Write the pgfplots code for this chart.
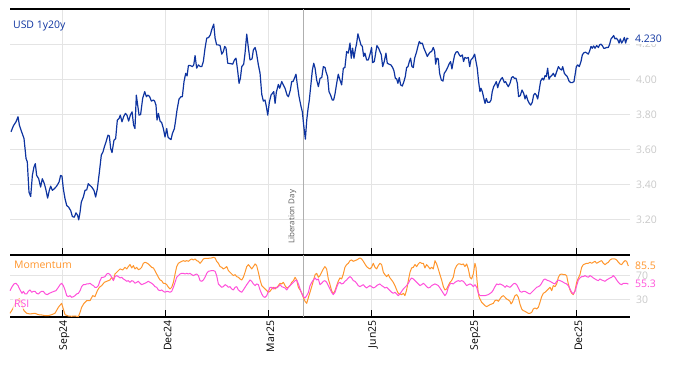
\documentclass[border=0pt]{standalone}
\usepackage{pgfplots}
\pgfplotsset{compat=1.18}
\usepackage{fontspec}
\setmainfont{Open Sans}
\definecolor{usdblue}{RGB}{14,52,160}
\definecolor{momorange}{RGB}{255,150,45}
\definecolor{rsipink}{RGB}{255,80,218}
\definecolor{gridgrey}{RGB}{228,228,228}
\definecolor{ticklab}{RGB}{200,200,200}
\definecolor{libgrey}{RGB}{175,175,175}
\definecolor{libtext}{RGB}{90,90,90}
\newcommand{\lf}{\fontsize{10.5}{12}\selectfont}
\begin{document}
\begin{tikzpicture}[x=1bp,y=1bp]
\useasboundingbox (0,0) rectangle (674,-366);
\pgfplotsset{
  common/.style={
    scale only axis, clip=false,
    xmin=0, xmax=548.7,
    separate axis lines,
    x axis line style={black, line width=1.2bp},
    y axis line style={draw=none},
    xtick={46.3,137.8,228.6,319.5,410.0,501.2},
    xtick pos=lower, xtick align=inside,
    major tick length=7bp,
    xtick style={black, line width=0.9bp},
    ytick style={draw=none},
    ytick pos=right, yticklabel pos=right,
    grid=major, major grid style={gridgrey, line width=0.8bp},
    /pgf/number format/assume math mode=true,
    yticklabel style={text=ticklab, font=\lf, anchor=west, xshift=2.5bp},
  }
}
\begin{axis}[common,
  at={(10bp,-9bp)}, anchor=north west,
  width=620bp, height=246bp,
  ymin=3.0, ymax=4.4,
  ytick={3.2,3.4,3.6,3.8,4.0,4.2},
  yticklabel style={/pgf/number format/.cd, fixed, fixed zerofill, precision=2},
  xticklabels={},
]
\draw[libgrey, line width=0.9bp] (axis cs:259.6,3.0) -- (axis cs:259.6,4.4);
\addplot[usdblue, line width=1.2bp, line join=round] coordinates {
(0.9,3.701)(3.0,3.735)(5.3,3.758)(7.1,3.787)(8.3,3.739)(10.3,3.701)(12.4,3.663)(14.2,3.549)(15.3,3.530)(16.8,3.358)
(18.3,3.333)(19.8,3.453)(21.2,3.501)(22.4,3.520)(23.6,3.453)(25.4,3.434)(27.1,3.387)(28.6,3.434)(30.4,3.406)(31.9,3.368)
(33.3,3.324)(34.8,3.368)(36.0,3.392)(37.5,3.368)(39.2,3.377)(41.3,3.392)(43.4,3.415)(44.8,3.453)(46.0,3.449)(47.2,3.377)
(48.7,3.320)(50.2,3.282)(51.9,3.272)(53.7,3.253)(55.2,3.219)(56.9,3.215)(58.4,3.240)(59.9,3.225)(60.8,3.200)(62.0,3.244)
(63.1,3.301)(64.9,3.330)(66.4,3.368)(67.9,3.371)(69.3,3.406)(70.8,3.396)(72.3,3.387)(74.3,3.368)(75.8,3.330)(77.3,3.377)
(79.1,3.472)(80.8,3.568)(82.3,3.587)(83.5,3.615)(85.0,3.644)(86.7,3.682)(87.9,3.678)(89.1,3.606)(90.3,3.583)(92.0,3.653)
(93.5,3.663)(95.0,3.768)(96.5,3.777)(97.6,3.796)(99.1,3.758)(100.6,3.787)(102.1,3.806)(103.5,3.796)(105.0,3.762)(106.5,3.796)
(108.0,3.815)(109.4,3.739)(110.6,3.720)(111.8,3.910)(113.0,3.853)(114.2,3.796)(115.6,3.800)(117.4,3.891)(119.2,3.930)(120.7,3.901)
(122.1,3.910)(123.6,3.901)(125.1,3.876)(126.9,3.882)(128.0,3.876)(129.2,3.853)(130.1,3.768)(131.3,3.806)(132.8,3.762)(134.2,3.754)
(135.7,3.720)(137.2,3.672)(138.7,3.720)(139.8,3.672)(141.0,3.663)
(142.5,3.657)(143.7,3.691)(145.5,3.720)(146.6,3.768)(147.8,3.825)(149.6,3.888)(151.4,3.901)(152.5,3.901)(154.0,3.987)(155.5,4.034)
(156.7,4.019)(157.9,4.078)(159.6,4.078)(161.4,4.072)(162.6,4.082)(163.8,4.135)(165.2,4.063)(166.7,4.082)(168.5,4.072)(169.7,4.072)
(171.1,4.101)(172.6,4.177)(174.1,4.234)(175.8,4.238)(177.3,4.253)(178.5,4.282)(180.3,4.314)(181.5,4.234)(182.9,4.196)(184.4,4.196)
(185.9,4.192)(187.4,4.143)(188.8,4.158)(190.0,4.187)(191.2,4.177)(192.7,4.091)(194.7,4.090)(197.1,4.086)(198.6,4.110)(200.0,4.120)
(201.5,4.048)(202.7,3.977)(203.9,4.006)(205.1,4.072)(206.8,4.086)(208.0,4.149)(209.5,4.257)(211.0,4.177)(212.4,4.110)(214.2,4.116)
(215.4,4.168)(216.9,4.181)(218.0,4.154)(219.8,4.082)(221.3,4.034)(222.8,3.914)(224.2,3.876)(225.7,3.882)(226.9,3.844)(228.1,3.796)
(229.5,3.869)(231.0,3.910)(232.2,3.920)(233.4,3.930)(234.6,3.863)(235.7,3.926)(237.5,3.971)(238.7,3.949)(240.5,3.987)(241.9,3.968)
(243.4,3.949)(245.2,3.910)(246.4,3.901)(248.1,3.939)(249.3,3.987)(250.5,3.987)(251.7,4.006)(253.1,4.029)(254.3,3.968)(255.8,3.901)
(257.6,3.844)(258.7,3.815)(259.9,3.739)(261.4,3.659)(262.6,3.768)(263.8,3.834)(264.9,3.882)(266.1,3.958)(267.6,4.053)(268.8,4.091)
(270.0,4.063)(271.4,3.996)(272.9,3.958)(274.4,4.006)(275.9,4.010)(277.3,4.072)(278.8,4.067)
(279.6,4.044)(281.1,4.015)(282.3,3.930)(283.7,3.910)(285.2,3.882)(286.4,3.882)(287.6,3.916)(289.1,3.977)(290.5,4.029)(292.0,3.996)
(293.5,3.968)(295.0,4.063)(296.4,4.067)(297.9,4.158)(299.4,4.149)(300.9,4.206)(302.0,4.120)(303.2,4.177)(304.4,4.120)(305.6,4.168)
(306.8,4.206)(307.9,4.259)(309.1,4.230)(310.6,4.196)(311.8,4.187)(313.0,4.130)(314.1,4.149)(315.6,4.110)(317.1,4.110)(318.6,4.143)
(320.0,4.181)(320.9,4.095)(322.4,4.101)(323.6,4.149)(324.7,4.192)(326.2,4.177)(327.4,4.158)(328.6,4.139)(329.8,4.072)(331.2,4.101)
(332.7,4.149)(333.9,4.091)(335.4,4.086)(337.1,4.082)(338.6,4.067)(339.8,4.048)(341.0,4.006)(342.2,4.002)(343.3,3.977)(344.5,4.010)
(345.7,3.968)(347.2,3.962)(348.6,3.987)(349.8,4.015)(351.0,4.067)(352.2,4.072)(353.4,4.101)(354.5,4.120)(355.7,4.072)(356.9,4.067)
(358.1,4.120)(359.9,4.158)(361.0,4.187)(362.2,4.215)(363.4,4.204)(364.9,4.206)(366.3,4.177)(367.8,4.154)(369.3,4.130)(370.5,4.143)
(371.7,4.154)(373.1,4.158)(374.6,4.181)(375.8,4.158)(376.7,4.086)(377.8,4.120)(379.0,4.116)(380.2,4.034)(381.7,3.996)(383.2,3.990)
(384.3,4.034)(385.8,4.048)(387.3,4.067)(388.5,4.086)(389.9,4.101)(391.1,4.059)(392.3,4.101)(393.5,4.139)(394.7,4.154)(396.1,4.158)
(397.6,4.139)(398.8,4.130)(400.3,4.139)(401.4,4.101)(402.6,4.124)(404.1,4.120)(405.6,4.124)(406.8,4.072)(407.9,4.110)(409.4,4.120)
(411.2,4.143)(412.4,4.101)(413.5,4.063)(414.7,3.987)(415.9,3.930)
(416.8,3.949)(418.0,3.930)(419.2,3.895)(420.4,3.863)(421.5,3.891)(422.7,3.869)(424.5,3.869)(425.7,3.882)(426.8,3.930)(428.0,3.958)
(429.2,3.971)(430.4,3.987)(431.6,3.952)(432.7,3.977)(434.5,4.002)(435.7,4.010)(437.5,3.981)(438.6,3.987)(439.8,3.971)(441.0,3.958)
(442.5,3.977)(443.9,4.010)(445.1,4.015)(446.3,4.006)(447.8,4.006)(449.0,3.977)(450.1,3.901)(451.6,3.907)(453.1,3.939)(454.6,3.920)
(455.8,3.888)(456.9,3.910)(458.1,3.882)(459.6,3.863)(460.8,3.853)(462.2,3.869)(463.4,3.910)(464.6,3.920)(465.8,3.910)(467.0,3.888)
(468.1,3.930)(469.6,3.990)(471.1,4.006)(472.3,3.996)(473.5,4.021)(474.6,4.015)(475.8,4.063)(477.0,4.000)(478.2,4.015)(479.4,4.021)
(480.8,4.034)(482.3,4.015)(483.8,4.044)(485.3,4.072)(486.7,4.059)(488.2,4.053)(489.1,4.072)(490.6,4.034)(491.7,4.025)(493.2,4.015)
(494.7,3.990)(496.2,3.981)(497.6,3.981)(499.1,3.987)(500.3,4.034)(501.2,4.072)(502.4,4.082)(503.8,4.072)(505.3,4.101)(506.5,4.139)
(508.0,4.152)(509.4,4.154)(510.6,4.149)(511.8,4.143)(513.0,4.162)(514.2,4.187)(515.3,4.177)(516.5,4.190)(517.7,4.177)(519.2,4.192)
(520.7,4.181)(521.8,4.196)(523.0,4.200)(524.2,4.192)(525.4,4.177)(526.6,4.177)(528.0,4.181)(529.5,4.181)(530.7,4.200)(531.9,4.230)
(533.0,4.238)(534.2,4.249)(535.4,4.230)(536.6,4.234)(537.8,4.225)(539.0,4.206)(540.1,4.230)(541.3,4.206)(542.5,4.219)(543.7,4.238)
(544.8,4.206)(546.0,4.234)(547.2,4.230)
};
\coordinate (usdlast) at (axis cs:548.7,4.23);
\coordinate (libpos) at (axis cs:253.6,3.063);
\coordinate (usdtitle) at (axis cs:2.6,4.289);
\end{axis}
\node[rotate=90, anchor=south west, inner sep=0pt, text=libtext, font=\fontsize{8}{9}\selectfont] at (libpos) {Liberation Day};
\node[anchor=base west, inner sep=0pt, text=usdblue, font=\lf] at (usdtitle) {USD 1y20y};
\node[anchor=west, fill=white, inner sep=1bp, xshift=4bp, text=usdblue, font=\lf] at (usdlast) {4.230};

\begin{axis}[common,
  at={(10bp,-255bp)}, anchor=north west,
  width=620bp, height=62bp,
  ymin=0.5, ymax=103.8,
  ytick={30,70},
  xticklabels={Sep24,Dec24,Mar25,Jun25,Sep25,Dec25},
  xticklabel style={rotate=90, anchor=east, font=\lf, text=black, yshift=-2bp},
]
\draw[libgrey, line width=0.9bp] (axis cs:259.6,0.5) -- (axis cs:259.6,103.8);
\addplot[momorange, line width=1bp, line join=round] coordinates {
(0,6.7)(2.4,13.9)(4.4,22.2)(6.5,28.9)(8.3,30.6)(10.3,22.2)(12.4,11.1)(14.8,6.7)(17.7,5.6)(22.1,6.7)
(25.1,4.4)(28.0,3.9)(31.0,2.8)(33.9,2.8)(36.9,4.4)(39.8,6.7)(42.8,16.7)(45.7,23.3)(47.2,13.9)(48.7,4.4)
(51.6,2.2)(54.6,1.7)(57.5,2.2)(60.5,1.1)(62.0,8.3)(63.4,16.7)(65.5,23.3)(67.9,27.8)(70.8,27.8)(73.2,36.1)
(75.2,34.4)(77.3,44.4)(79.1,50.0)(81.1,52.8)(83.5,58.3)(85.6,60.0)(88.5,62.2)(90.0,66.7)(91.5,62.2)(92.9,72.2)
(94.4,75.0)(95.9,77.8)(97.4,80.6)(99.7,78.9)(101.8,83.3)(103.3,80.6)(104.7,84.5)(106.2,87.8)(107.7,82.2)(109.2,86.1)
(110.6,80.6)(112.1,83.3)(113.6,79.4)(115.1,80.6)(116.5,83.3)(118.0,90.0)(119.5,91.7)(121.0,90.6)(122.4,88.9)(123.9,86.1)
(125.4,83.3)(126.9,82.2)(128.3,77.8)(129.8,72.2)(131.3,66.7)(132.8,62.2)(134.2,61.1)(135.7,56.7)
(137.2,56.7)(138.7,54.4)(140.2,50.0)(141.6,47.2)(143.1,50.0)(144.6,58.3)(146.1,72.2)(147.5,84.5)(149.0,90.0)(150.5,91.7)
(152.0,93.3)(153.4,94.4)(154.9,93.3)(156.4,94.4)(157.9,93.3)(159.3,95.6)(160.8,97.2)(162.3,95.6)(163.8,97.2)(165.2,94.4)
(166.7,93.3)(168.2,90.0)(169.7,93.3)(171.1,97.2)(172.6,98.3)(175.6,98.3)(178.5,98.9)(180.0,100.0)(181.5,98.9)(182.9,93.3)
(184.4,90.0)(185.9,84.5)(187.4,83.3)(188.8,80.6)(190.3,82.2)(191.8,84.5)(193.3,77.8)(194.7,75.0)(196.2,72.2)(197.7,69.5)
(199.2,71.1)(200.6,67.8)(202.1,66.7)(203.6,63.9)(205.1,62.2)(206.5,66.7)(208.0,75.0)(209.5,84.5)(211.0,87.8)(212.4,84.5)
(213.9,80.6)(215.4,84.5)(216.9,88.9)(218.3,86.1)(219.8,75.0)(221.3,62.2)(222.8,52.8)(224.2,50.0)(225.7,47.2)(227.2,44.4)
(228.7,41.7)(230.1,43.3)(231.6,47.2)(233.1,50.0)(234.6,47.2)(236.0,50.0)(237.5,52.8)(239.0,56.7)(240.5,55.6)(241.9,58.3)
(243.4,52.8)(244.9,48.9)(246.4,50.0)(247.8,52.8)(249.3,58.3)(250.8,61.1)(252.3,66.7)(253.7,62.2)(255.2,50.0)(256.7,45.6)
(258.2,40.0)(259.6,33.3)(261.1,26.7)(262.6,23.3)(264.1,33.3)(265.5,41.7)(267.0,51.1)(268.5,61.1)(270.0,71.1)(271.4,73.3)
(272.9,66.7)
(274.3,69.5)(275.8,75.0)(277.3,80.6)(278.7,84.5)(280.2,80.6)(281.7,63.9)(283.2,54.4)(284.6,44.4)(286.1,38.9)(287.6,44.4)
(289.1,52.8)(290.5,60.0)(292.0,65.6)(293.5,63.9)(295.0,72.2)(296.4,83.3)(297.9,87.8)(299.4,90.0)(300.9,94.4)(302.3,95.6)
(303.8,93.3)(305.3,94.4)(306.8,95.6)(308.2,97.2)(309.7,98.9)(311.2,97.2)(312.7,93.3)(314.1,88.9)(315.6,84.5)(317.1,82.2)
(318.6,80.6)(320.0,83.3)(321.5,90.0)(323.0,83.3)(324.5,80.6)(325.9,86.1)(327.4,90.0)(328.9,87.8)(330.4,75.0)(331.8,71.1)
(333.3,67.8)(334.8,71.1)(336.3,65.6)(337.7,62.2)(339.2,58.3)(340.7,52.8)(342.2,45.6)(343.6,40.0)(345.1,38.9)(346.6,37.8)
(348.1,40.0)(349.5,36.1)(351.0,45.6)(352.5,61.1)(354.0,75.0)(355.4,82.2)(356.9,83.3)(358.4,87.8)(359.9,84.5)(361.3,88.9)
(362.8,91.7)(364.3,90.0)(365.8,90.0)(367.2,82.2)(368.7,87.8)(370.2,84.5)(371.7,80.6)(373.1,83.3)(374.6,80.6)(376.1,94.4)
(377.6,88.9)(379.0,80.6)(380.5,71.1)(382.0,62.2)(383.5,51.1)(384.9,45.6)(386.4,47.2)(387.9,52.8)(389.4,58.3)(390.8,61.1)
(392.3,66.7)(393.8,80.6)(395.3,86.1)(396.7,88.9)(398.2,88.9)(399.7,87.8)(401.2,88.9)(402.6,84.5)(404.1,88.9)(405.6,80.6)
(407.1,66.7)(408.5,63.9)(410.0,72.2)
(411.5,90.0)(412.4,83.3)(413.3,61.1)(414.2,44.4)(415.0,34.4)(415.9,30.6)(417.4,25.0)(418.9,22.2)(420.4,19.4)(421.8,17.8)
(423.3,19.4)(424.8,21.1)(426.3,22.2)(427.7,23.3)(429.2,27.8)(430.7,28.9)(432.2,26.7)(433.6,30.6)(435.1,34.4)(436.6,36.1)
(438.1,33.3)(439.5,30.6)(441.0,28.9)(442.5,26.7)(443.4,22.2)(444.5,25.0)(445.7,30.6)(446.9,36.1)(448.4,37.8)(449.9,33.3)
(451.3,22.2)(452.8,13.9)(454.3,11.1)(455.8,10.0)(457.2,8.3)(458.7,6.7)(460.2,6.7)(461.7,8.3)(463.1,13.9)(464.6,15.6)
(466.1,13.9)(467.6,16.7)(469.0,25.0)(470.5,34.4)(472.0,40.0)(473.5,41.7)(474.9,44.4)(476.4,47.2)(477.9,50.0)(479.4,44.4)
(480.8,52.8)(482.3,51.1)(483.8,55.6)(485.3,66.7)(486.7,71.1)(488.2,72.2)(489.7,71.1)(491.2,71.1)(492.6,69.5)(494.1,55.6)
(495.6,45.6)(497.1,40.0)(498.5,37.8)(500.0,44.4)(501.5,58.3)(503.0,65.6)(504.4,71.1)(505.9,83.3)(507.4,87.8)(508.9,88.9)
(510.3,90.0)(511.8,90.0)(513.3,91.7)(514.8,90.0)(516.2,91.7)(517.7,93.3)(519.2,90.0)(520.7,91.7)(522.1,93.3)(523.6,94.4)
(525.1,90.0)(526.6,87.8)(528.0,90.0)(529.5,91.7)(531.0,95.6)(532.5,97.2)(533.9,97.2)(535.4,97.2)(536.9,95.6)(538.4,91.7)
(539.8,88.9)(541.3,87.8)(542.8,91.7)(544.3,94.4)(545.7,93.3)(547.2,85.5)
};
\addplot[rsipink, line width=1bp, line join=round] coordinates {
(0,44.4)(1.5,50.0)(3.5,55.6)(5.3,56.7)(7.1,52.8)(8.9,45.6)(10.6,40.0)(11.8,43.3)(13.3,38.9)(14.8,38.9)
(16.2,43.3)(17.7,45.6)(19.2,41.7)(20.7,43.3)(22.1,43.3)(23.6,40.0)(25.1,38.9)(26.6,41.7)(28.0,43.3)(29.5,43.3)
(31.3,38.9)(33.0,37.8)(34.8,40.0)(36.9,41.7)(38.9,43.3)(40.7,44.4)(42.8,50.0)(44.3,54.4)(45.7,56.7)(47.2,52.8)
(48.7,45.6)(50.2,36.1)(51.6,34.4)(53.1,36.1)(54.6,33.3)(56.1,34.4)(57.5,36.1)(59.0,38.9)(60.5,40.0)(62.0,44.4)
(63.4,51.1)(64.9,54.4)(66.4,54.4)(67.9,55.6)(69.3,55.6)(70.8,56.7)(72.3,54.4)(73.8,52.8)(75.2,50.0)(76.7,50.0)
(78.2,52.8)(79.7,61.1)(81.1,66.7)(82.6,66.7)(84.1,67.8)(85.6,72.2)(87.0,73.3)(88.5,71.1)(90.0,66.7)(91.5,61.1)
(92.9,67.8)(94.4,69.5)(95.9,67.8)(97.4,65.6)(98.8,66.7)(100.3,63.9)(101.8,62.2)(103.3,60.0)(104.7,61.1)(106.2,58.3)
(107.7,61.1)(109.2,60.0)(110.6,56.7)(112.1,58.3)(113.6,60.0)(115.1,56.7)(116.5,54.4)(118.0,55.6)(119.5,56.7)(121.0,58.3)
(122.4,60.0)(123.9,58.3)(125.4,56.7)(126.9,54.4)(128.3,51.1)(129.8,50.0)(131.3,45.6)(132.8,44.4)(134.2,45.6)(135.7,43.3)
(137.2,41.7)(138.7,43.3)(140.2,42.8)(141.6,41.7)(143.1,43.3)(144.6,50.0)(146.1,58.3)(147.5,66.7)(149.0,69.5)(150.5,72.2)
(152.0,73.3)(153.4,73.3)(154.9,72.2)(156.4,73.3)(157.9,72.2)(159.3,73.3)(160.8,71.1)(162.3,69.5)(163.8,71.1)(165.2,72.2)
(166.7,69.5)(168.2,61.1)(169.7,60.0)(171.1,62.2)(172.6,66.7)(174.1,73.3)(175.6,76.7)(178.5,77.8)(180.0,77.8)(181.5,76.7)
(182.9,69.5)(184.4,55.6)(185.9,52.8)(187.4,50.0)(188.8,51.1)(190.3,54.4)(191.8,52.8)(193.3,50.0)(194.7,51.1)(196.2,47.2)
(197.7,45.6)(199.2,50.0)(200.6,51.1)(202.1,45.6)(203.6,43.3)(205.1,41.7)(206.5,45.6)(208.0,50.0)(209.5,54.4)(211.0,58.3)
(212.4,62.2)(213.9,60.0)(215.4,55.6)(216.9,52.8)(218.3,55.6)(219.8,54.4)(221.3,45.6)(222.8,38.9)(224.2,34.4)(225.7,33.3)
(227.2,36.1)(228.7,43.3)(230.1,50.0)(231.6,50.0)(233.1,47.2)(234.6,50.0)(236.0,48.9)(237.5,51.1)(239.0,54.4)(240.5,51.1)
(241.9,50.0)(243.4,48.9)(244.9,45.6)(246.4,50.0)(247.8,52.8)(249.3,55.6)(250.8,58.3)(252.3,61.1)(253.7,62.2)(255.2,55.6)
(256.7,47.2)(258.2,40.0)(259.6,34.4)(261.1,32.2)(262.6,36.1)(264.1,41.7)(265.5,52.8)(267.0,58.3)(268.5,62.2)(270.0,65.6)
(271.4,62.2)(272.9,63.9)
(274.3,54.4)(275.8,56.7)(277.3,60.0)(278.7,61.1)(280.2,58.3)(281.7,52.8)(283.2,47.2)(284.6,41.7)(286.1,37.8)(287.6,41.7)
(289.1,50.0)(290.5,56.7)(292.0,58.3)(293.5,55.6)(295.0,56.7)(296.4,60.0)(297.9,62.2)(299.4,65.6)(300.9,67.8)(302.3,65.6)
(303.8,61.1)(305.3,60.0)(306.8,56.7)(308.2,52.8)(309.7,51.1)(311.2,52.8)(312.7,54.4)(314.1,51.1)(315.6,48.9)(317.1,51.1)
(318.6,52.8)(320.0,51.1)(321.5,48.9)(323.0,50.0)(324.5,52.8)(325.9,54.4)(327.4,55.6)(328.9,52.8)(330.4,51.1)(331.8,48.9)
(333.3,50.0)(334.8,47.2)(336.3,44.4)(337.7,41.7)(339.2,40.0)(340.7,41.7)(342.2,38.9)(343.6,36.1)(345.1,38.9)(346.6,43.3)
(348.1,47.2)(349.5,50.0)(351.0,52.8)(352.5,56.7)(354.0,62.2)(355.4,65.6)(356.9,63.9)(358.4,61.1)(359.9,58.3)(361.3,55.6)
(362.8,52.8)(364.3,54.4)(365.8,56.7)(367.2,54.4)(368.7,51.1)(370.2,48.9)(371.7,50.0)(373.1,52.8)(374.6,54.4)(376.1,55.6)
(377.6,54.4)(379.0,52.8)(380.5,48.9)(382.0,44.4)(383.5,40.0)(384.9,36.1)(386.4,40.0)(387.9,50.0)(389.4,55.6)(390.8,56.7)
(392.3,55.6)(393.8,58.3)(395.3,60.0)(396.7,61.1)(398.2,60.0)(399.7,61.1)(401.2,60.0)(402.6,56.7)(404.1,52.8)(405.6,54.4)
(407.1,55.6)(408.5,54.4)(410.0,51.1)
(411.5,54.4)(413.0,50.0)(414.5,40.0)(415.9,36.1)(417.4,36.1)(420.4,36.1)(423.3,37.8)(426.3,41.7)(427.7,45.6)(429.2,51.1)
(430.7,55.6)(432.2,54.4)(433.6,55.6)(435.1,54.4)(436.6,52.8)(438.1,50.0)(439.5,52.8)(441.0,51.1)(442.5,50.0)(444.0,52.8)
(445.4,55.6)(446.9,56.7)(448.4,54.4)(449.9,48.9)(451.3,43.3)(452.8,41.7)(454.3,43.3)(455.8,43.3)(457.2,41.7)(458.7,40.0)
(460.2,38.9)(461.7,41.7)(463.1,44.4)(464.6,47.2)(466.1,50.0)(467.6,51.1)(469.0,52.8)(470.5,56.7)(472.0,62.2)(473.5,63.9)
(474.9,62.2)(476.4,61.1)(477.9,60.0)(479.4,58.3)(480.8,56.7)(482.3,55.6)(483.8,60.0)(485.3,62.2)(486.7,61.1)(488.2,60.0)
(489.7,58.3)(491.2,56.7)(492.6,55.6)(494.1,52.8)(495.6,47.2)(497.1,41.7)(498.5,38.9)(500.0,43.3)(501.5,52.8)(503.0,62.2)
(504.4,65.6)(505.9,67.8)(507.4,67.8)(508.9,69.5)(510.3,67.8)(511.8,66.7)(513.3,69.5)(514.8,67.8)(516.2,65.6)(517.7,63.9)
(519.2,62.2)(520.7,61.1)(522.1,63.9)(523.6,62.2)(525.1,61.1)(526.6,60.0)(528.0,62.2)(529.5,63.9)(531.0,65.6)(532.5,66.7)
(533.9,69.5)(535.4,66.7)(536.9,62.2)(538.4,58.3)(539.8,55.6)(541.3,54.4)(542.8,56.7)(544.3,56.7)(545.7,56.7)(547.2,55.3)
};
\coordinate (momlast) at (axis cs:548.7,85.5);
\coordinate (rsilast) at (axis cs:548.7,55.3);
\coordinate (momlab) at (axis cs:2.6,80.5);
\coordinate (rsilab) at (axis cs:2.6,16.0);
\end{axis}
\node[anchor=west, fill=white, inner sep=1bp, xshift=4bp, text=momorange, font=\lf] at (momlast) {85.5};
\node[anchor=west, fill=white, inner sep=1bp, xshift=4bp, text=rsipink, font=\lf] at (rsilast) {55.3};
\node[anchor=base west, fill=white, fill opacity=0.7, text opacity=1, inner sep=1bp, text=momorange, font=\lf] at (momlab) {Momentum};
\node[anchor=base west, fill=white, fill opacity=0.7, text opacity=1, inner sep=1bp, text=rsipink, font=\lf] at (rsilab) {RSI};
\end{tikzpicture}
\end{document}
